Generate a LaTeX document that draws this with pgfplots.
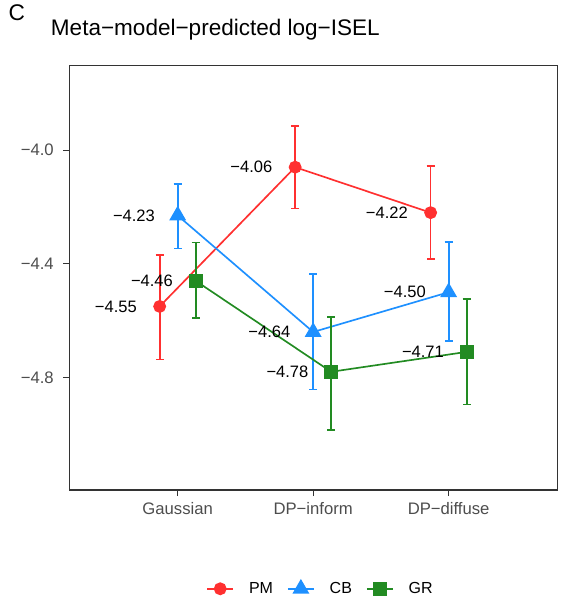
\documentclass[border=0pt]{standalone}
\usepackage{pgfplots}
\usepackage{pgfplotstable}
\pgfplotsset{compat=1.18}
\usepackage{fontspec}
\setmainfont{Liberation Sans}
\definecolor{cPM}{HTML}{FF3030}
\definecolor{cCB}{HTML}{1E90FF}
\definecolor{cGR}{HTML}{228B22}
\definecolor{g20}{HTML}{333333}
\definecolor{g30}{HTML}{4D4D4D}

\pgfplotstableread{
x y ep em lab
0.867 -4.55 0.181 0.187 −4.55
1.867 -4.06 0.145 0.145 −4.06
2.867 -4.22 0.165 0.162 −4.22
}\tabPM
\pgfplotstableread{
x y ep em lab
1 -4.23 0.111 0.116 −4.23
2 -4.64 0.204 0.202 −4.64
3 -4.50 0.177 0.172 −4.50
}\tabCB
\pgfplotstableread{
x y ep em lab
1.133 -4.46 0.135 0.130 −4.46
2.133 -4.78 0.192 0.205 −4.78
3.133 -4.71 0.186 0.185 −4.71
}\tabGR

\begin{document}
\begin{tikzpicture}
\path[use as bounding box] (-51.975pt,-84pt) rectangle (388.275pt,367.5pt);
\begin{axis}[
  scale only axis,
  width=365.8pt, height=318.2pt,
  xmin=0.2, xmax=3.8,
  ymin=-5.196, ymax=-3.703,
  clip=false,
  axis line style={g20, line width=0.8pt},
  tick align=outside,
  major tick length=4.5pt,
  major tick style={g20, line width=0.8pt},
  xtick={1,2,3},
  xticklabels={Gaussian,DP−inform,DP−diffuse},
  ytick={-4.8,-4.4,-4.0},
  yticklabels={−4.8,−4.4,−4.0},
  xtick pos=bottom, ytick pos=left,
  ticklabel style={font=\fontsize{12.5}{14}\selectfont, text=g30},
  yticklabel style={inner sep=0pt, anchor=east, xshift=-7pt},
  xticklabel style={inner sep=0pt, anchor=base, yshift=-13.5pt},
  legend columns=3,
  legend style={draw=none, fill=none, at={(axis description cs:0.513,-0.231)}, anchor=center,
    font=\fontsize{12}{14}\selectfont, inner sep=0pt,
    nodes={inner sep=0pt},
    /tikz/every odd column/.append style={column sep=11.25pt},
    /tikz/every even column/.append style={column sep=10.5pt}},
  legend image code/.code={\draw[mark repeat=2,mark phase=2] plot coordinates {(0pt,0pt) (9.75pt,0pt) (19.5pt,0pt)};},
  every axis plot/.append style={line width=1.25pt},
  nodes near coords,
  point meta=explicit symbolic,
  nodes near coords style={anchor=east, inner sep=0pt, xshift=-16.5pt, text=black, font=\fontsize{12.4}{14}\selectfont},
  ebar/.style={error bars/y dir=both, error bars/y explicit, error bars/error mark=|,
    error bars/error bar style={line width=1.3pt, solid},
    error bars/error mark options={mark size=3pt, line width=1.3pt, solid}},
]
\addplot[cPM, mark=*, mark size=4.2pt, mark options={solid}, ebar]
  table[x=x, y=y, y error plus=ep, y error minus=em, meta=lab]{\tabPM};
\addlegendentry{PM}
\addplot[cCB, mark=triangle*, mark size=6.1pt, mark options={solid}, ebar]
  table[x=x, y=y, y error plus=ep, y error minus=em, meta=lab]{\tabCB};
\addlegendentry{CB}
\addplot[cGR, mark=square*, mark size=4.65pt, mark options={solid}, ebar]
  table[x=x, y=y, y error plus=ep, y error minus=em, meta=lab]{\tabGR};
\addlegendentry{GR}
\end{axis}
\node[anchor=base west, inner sep=0pt, font=\fontsize{16.9}{20}\selectfont] at (-13.95pt,340.5pt) {Meta−model−predicted log−ISEL};
\node[anchor=base west, inner sep=0pt, font=\fontsize{17}{20}\selectfont] at (-45.75pt,351.75pt) {C};
\end{tikzpicture}
\end{document}
